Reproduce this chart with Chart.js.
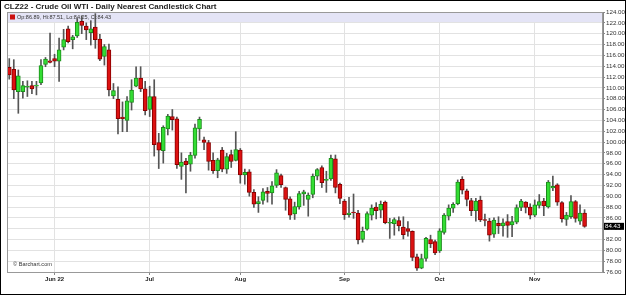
<!DOCTYPE html>
<html>
<head>
<meta charset="utf-8">
<script src="https://cdn.jsdelivr.net/npm/chart.js@4/dist/chart.umd.min.js"></script>
<style>
  html, body { margin: 0; padding: 0; background: #fff; }
  #wrap { width: 626px; height: 295px; box-sizing: border-box; border: 1px solid #000; }
  canvas { display: block; }
</style>
</head>
<body>
<div id="wrap"><canvas id="chart" width="624" height="293"></canvas></div>
<script>
// CLZ22 daily candles, mid May to mid Nov 2022 (one entry per trading day)
const opens = [113.8,113.4,109.3,109.3,110.1,110.4,110.3,110.9,114.3,115.0,
  115.4,114.9,117.5,120.9,118.9,119.6,122.3,121.4,120.2,121.2,
  119.0,115.8,117.0,108.5,107.9,104.6,104.0,107.3,110.3,111.8,
  109.8,106.0,108.4,99.9,98.4,102.4,104.7,104.3,95.5,96.5,
  95.9,97.5,102.4,100.4,99.9,96.6,94.7,98.5,95.0,97.7,
  96.6,98.5,93.9,94.5,90.7,88.6,89.2,90.9,90.6,92.0,
  93.8,91.6,89.5,86.7,88.0,90.4,89.4,90.3,93.7,95.3,
  92.9,93.2,96.9,92.2,89.1,86.6,87.0,86.9,82.0,83.9,
  86.5,88.0,87.4,88.9,85.0,84.9,85.5,84.3,84.0,83.5,
  78.8,76.7,78.5,82.0,81.6,79.9,83.3,86.3,87.8,88.6,
  93.1,91.0,89.2,87.3,89.3,85.6,85.4,83.0,85.0,84.5,
  85.3,84.7,85.2,87.9,88.9,88.0,86.5,88.3,89.1,88.0,
  91.5,92.1,88.8,85.7,86.2,89.0,85.4,86.89];
const highs = [115.4,115.2,113.3,111.2,111.3,111.2,111.2,115.2,115.6,120.1,
  116.2,119.2,120.8,121.4,119.7,122.8,123.3,122.0,122.4,123.7,
  119.9,118.0,118.1,110.8,110.2,107.4,108.4,111.5,113.9,113.9,
  111.2,110.3,111.5,101.6,103.0,105.1,106.0,104.6,98.0,97.0,
  98.1,103.3,104.6,100.9,100.3,98.0,97.0,99.0,97.9,98.5,
  101.9,98.8,95.0,94.9,91.2,89.9,91.4,91.6,92.7,94.9,
  94.1,91.7,89.9,88.9,90.9,91.1,90.6,94.1,95.1,95.6,
  94.6,97.6,97.6,92.4,89.4,89.8,90.4,87.4,84.3,87.1,
  88.4,88.8,89.1,89.1,85.9,86.0,86.2,86.2,85.3,83.6,
  79.3,79.3,82.4,82.8,81.9,84.0,86.8,88.4,88.8,93.0,
  93.6,91.3,89.6,89.6,90.0,86.7,85.9,86.0,86.2,85.8,
  86.6,86.3,88.4,89.4,89.0,88.6,89.3,90.3,89.6,92.9,
  93.7,92.3,89.0,87.0,90.1,89.2,88.4,87.51];
const lows = [111.6,108.0,105.3,108.1,108.4,108.9,108.7,110.6,113.9,114.6,
  113.9,111.2,117.0,118.3,117.2,119.3,120.0,118.9,117.9,117.3,
  115.0,114.2,108.5,108.0,101.5,101.9,101.9,105.9,110.2,109.3,
  105.0,104.7,97.4,95.1,96.1,101.3,102.2,95.1,93.1,90.6,
  94.6,97.0,100.3,98.6,94.8,94.2,93.4,94.5,94.2,95.3,
  96.5,92.4,92.2,90.0,87.9,87.0,88.5,88.9,88.5,91.6,
  91.6,87.4,85.7,85.7,87.6,88.3,86.3,89.7,93.0,91.6,
  90.7,92.9,90.6,88.6,85.7,86.1,85.9,81.2,81.5,83.7,
  85.6,85.8,86.0,84.9,82.2,82.8,83.6,82.1,82.6,78.1,
  76.3,76.6,78.0,80.5,79.2,79.6,83.0,85.6,87.0,88.4,
  90.4,88.2,86.4,85.4,85.3,84.5,81.7,82.4,83.1,82.6,
  82.4,82.5,84.9,87.3,86.9,85.8,86.2,87.8,86.4,87.8,
  91.0,88.3,85.2,84.6,85.9,85.2,84.8,84.25];
const closes = [112.4,109.6,112.2,110.4,110.3,109.8,110.5,114.1,115.3,114.7,
  114.9,117.0,118.9,118.5,119.4,122.1,121.5,120.7,120.9,118.9,
  115.3,117.6,109.6,109.5,104.3,104.3,107.6,109.6,111.8,109.8,
  105.8,108.4,99.5,98.5,102.7,104.8,104.1,95.8,96.3,95.8,
  97.6,102.6,104.2,99.9,96.4,94.7,96.7,95.0,97.3,96.4,
  98.6,93.9,94.4,90.7,88.5,89.0,90.8,90.5,91.9,94.3,
  92.1,89.4,86.5,88.1,90.5,90.8,90.2,93.7,94.9,92.5,
  93.1,97.0,91.6,89.6,86.6,86.9,86.9,81.9,83.5,86.8,
  87.8,87.3,88.5,85.1,85.1,85.7,84.5,82.9,83.5,78.7,
  76.7,78.5,82.2,81.2,79.5,83.6,86.5,87.8,88.5,92.6,
  91.1,89.4,87.3,89.1,85.6,85.5,82.8,85.6,84.5,85.1,
  84.6,85.3,87.9,89.1,87.9,86.5,88.4,89.0,88.2,92.6,
  91.8,88.9,85.8,86.5,89.0,85.9,86.9,84.43];

// bar index where each month starts, and its axis label
const monthStarts = [10, 31, 51, 74, 95, 116];
const monthLabels = ['Jun 22', 'Jul', 'Aug', 'Sep', 'Oct', 'Nov'];

const title = 'CLZ22 - Crude Oil WTI - Daily Nearest Candlestick Chart';
const credit = '\u00a9 Barchart.com';

const UP = '#33dd33', UP_EDGE = '#1c8c1c';
const DOWN = '#dd1111', DOWN_EDGE = '#880000';
const FONT = 'Arial, "Liberation Sans", sans-serif';

const idx = closes.map((c, i) => i);
const last = closes.length - 1;
const isUp = idx.map(i => closes[i] >= opens[i]);

const decor = {
  id: 'decor',
  beforeDatasetsDraw(chart) {
    const { ctx, chartArea: a } = chart;
    ctx.save();
    // quote strip along the top of the plot
    ctx.fillStyle = '#e4e4f6';
    ctx.fillRect(a.left, a.top, a.right - a.left, 10);
    ctx.fillStyle = '#cc1111';
    ctx.fillRect(a.left + 3, a.top + 2.5, 5, 5);
    ctx.fillStyle = '#333';
    ctx.font = '5.5px ' + FONT;
    ctx.textBaseline = 'middle';
    const q = 'Op:' + opens[last].toFixed(2) + ', Hi:' + highs[last].toFixed(2) +
      ', Lo:' + lows[last].toFixed(2) + ', Cl:' + closes[last].toFixed(2);
    ctx.fillText(q, a.left + 10, a.top + 5);
    ctx.restore();
  },
  afterDraw(chart) {
    const { ctx, chartArea: a, scales } = chart;
    ctx.save();
    ctx.strokeStyle = '#999';
    ctx.lineWidth = 1;
    ctx.strokeRect(a.left + 0.5, a.top + 0.5, a.right - a.left - 1, a.bottom - a.top);

    ctx.fillStyle = '#222';
    ctx.font = 'bold 8px ' + FONT;
    ctx.textBaseline = 'middle';
    ctx.fillText(title, 3, 6);

    ctx.fillStyle = '#333';
    ctx.font = '5.6px ' + FONT;
    ctx.fillText(credit, a.left + 6, a.bottom - 8);

    // last price marker on the price axis
    const y = scales.y.getPixelForValue(closes[last]);
    ctx.fillStyle = '#000';
    ctx.fillRect(a.right + 1, y - 3.5, 20, 7);
    ctx.fillStyle = '#fff';
    ctx.font = '6.2px ' + FONT;
    ctx.fillText(closes[last].toFixed(2), a.right + 2, y);
    ctx.restore();
  }
};

new Chart(document.getElementById('chart'), {
  type: 'bar',
  data: {
    datasets: [
      {
        label: 'Range',
        data: idx.map(i => ({ x: i, y: [lows[i], highs[i]] })),
        backgroundColor: '#555',
        barThickness: 1,
        grouped: false,
        order: 2,
      },
      {
        label: 'Body',
        data: idx.map(i => ({ x: i, y: [opens[i], closes[i]] })),
        backgroundColor: idx.map(i => isUp[i] ? UP : DOWN),
        borderColor: idx.map(i => isUp[i] ? UP_EDGE : DOWN_EDGE),
        borderWidth: 1,
        borderSkipped: false,
        barThickness: 4,
        minBarLength: 1,
        grouped: false,
        order: 1,
      },
    ],
  },
  options: {
    responsive: false,
    animation: false,
    layout: { padding: { left: 6, top: 11, right: 0, bottom: 0 } },
    plugins: {
      legend: { display: false },
      tooltip: { enabled: false },
      title: { display: false },
    },
    scales: {
      x: {
        type: 'linear',
        min: -0.5,
        max: 131.07,
        offset: false,
        grid: { color: '#e2e2e2', offset: false, tickLength: 3, tickColor: '#888' },
        border: { color: '#999' },
        afterBuildTicks: (s) => { s.ticks = monthStarts.map(v => ({ value: v })); },
        afterFit: (s) => { s.height = 22; },
        ticks: {
          autoSkip: false,
          maxRotation: 0,
          padding: 1,
          color: '#222',
          font: { family: FONT, size: 6, weight: 'bold' },
          callback: (v) => monthLabels[monthStarts.indexOf(v)],
        },
      },
      y: {
        position: 'right',
        min: 76,
        max: 124,
        grid: { color: '#e2e2e2', tickLength: 2, tickColor: '#888' },
        border: { color: '#888' },
        afterFit: (s) => { s.width = 22; },
        ticks: {
          stepSize: 2,
          autoSkip: false,
          padding: 1,
          color: '#333',
          font: { family: FONT, size: 6.2 },
          callback: (v) => v.toFixed(2),
        },
      },
    },
  },
  plugins: [decor],
});
</script>
</body>
</html>
